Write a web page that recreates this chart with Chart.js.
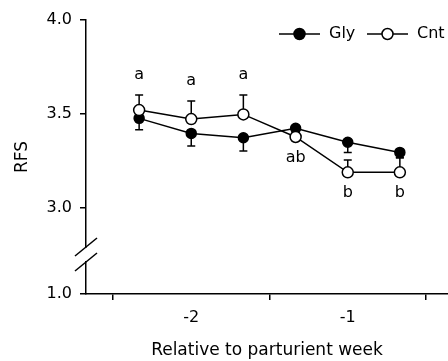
<!DOCTYPE html>
<html>
<head>
<meta charset="utf-8">
<script src="https://cdn.jsdelivr.net/npm/chart.js"></script>
<style>
  body { margin: 0; background: #fff; }
  canvas { display: block; }
</style>
</head>
<body>
<canvas id="rfs" width="448" height="361"></canvas>
<script>
  // sampling points, in weeks relative to parturition
  const weeks = [-2.333, -2, -1.667, -1.333, -1, -0.667];
  const glyMean = [3.477, 3.397, 3.374, 3.424, 3.35, 3.296];
  const glyErr = [0.06, 0.067, 0.07, 0.02, 0.055, 0.03];
  const cntMean = [3.521, 3.473, 3.498, 3.378, 3.19, 3.19];
  const cntErr = [0.08, 0.096, 0.103, 0.02, 0.065, 0.08];
  const letters = ["a", "a", "a", "ab", "b", "b"];
  const xTickLabels = [-2, -1];
  const yTickValues = [3.0, 3.5, 4.0];
  const yBreakLabel = "1.0";

  // axis layout (broken axis: the 1.0 tick sits below the break)
  const Y_BOTTOM = 2.543;
  const X_MIN = -2.6725;
  const X_MAX = -0.3594;
  const letterAbove = [true, true, true, false, false, false];
  const FONT = "'DejaVu Sans', sans-serif";

  const errorBars = {
    id: "errorBars",
    beforeDatasetsDraw(chart) {
      const { ctx, scales } = chart;
      const sets = [
        { mean: glyMean, err: glyErr, dir: -1 },
        { mean: cntMean, err: cntErr, dir: 1 },
      ];
      ctx.save();
      ctx.strokeStyle = "#000";
      ctx.lineWidth = 1.5;
      sets.forEach((s) => {
        weeks.forEach((w, i) => {
          const x = scales.x.getPixelForValue(w);
          const y0 = scales.y.getPixelForValue(s.mean[i]);
          const y1 = scales.y.getPixelForValue(s.mean[i] + s.dir * s.err[i]);
          ctx.beginPath();
          ctx.moveTo(x, y0);
          ctx.lineTo(x, y1);
          ctx.moveTo(x - 4, y1);
          ctx.lineTo(x + 4, y1);
          ctx.stroke();
        });
      });
      ctx.restore();
    },
  };

  const extras = {
    id: "extras",
    afterDraw(chart) {
      const { ctx, scales } = chart;
      ctx.save();
      // letters of significance
      ctx.fillStyle = "#000";
      ctx.font = "16px " + FONT;
      ctx.textAlign = "center";
      ctx.textBaseline = "middle";
      weeks.forEach((w, i) => {
        const x = scales.x.getPixelForValue(w);
        let y;
        if (letterAbove[i]) {
          y = scales.y.getPixelForValue(cntMean[i] + cntErr[i]) - 20;
        } else {
          y = scales.y.getPixelForValue(cntMean[i]) + 21;
        }
        ctx.fillText(letters[i], x, y);
      });

      // axis break
      const ax = scales.y.right;
      ctx.fillStyle = "#fff";
      ctx.fillRect(ax - 3, 248, 6, 13);
      ctx.strokeStyle = "#000";
      ctx.lineWidth = 1.5;
      [247, 262].forEach((cy) => {
        ctx.beginPath();
        ctx.moveTo(ax - 11, cy + 9);
        ctx.lineTo(ax + 11, cy - 9);
        ctx.stroke();
      });

      // legend
      const ly = 34;
      const items = [
        { x: 279, label: "Gly", fill: "#000" },
        { x: 367, label: "Cnt", fill: "#fff" },
      ];
      ctx.textAlign = "left";
      items.forEach((it) => {
        ctx.beginPath();
        ctx.moveTo(it.x, ly);
        ctx.lineTo(it.x + 41, ly);
        ctx.stroke();
        ctx.beginPath();
        ctx.arc(it.x + 20.5, ly, 5.5, 0, Math.PI * 2);
        ctx.fillStyle = it.fill;
        ctx.fill();
        ctx.stroke();
        ctx.fillStyle = "#000";
        ctx.fillText(it.label, it.x + 50, ly);
      });
      ctx.restore();
    },
  };

  const tickFont = { family: FONT, size: 16 };
  const titleFont = { family: FONT, size: 17 };

  new Chart(document.getElementById("rfs"), {
    type: "line",
    data: {
      datasets: [
        {
          label: "Gly",
          data: weeks.map((w, i) => ({ x: w, y: glyMean[i] })),
          borderColor: "#000",
          borderWidth: 1.5,
          pointBackgroundColor: "#000",
          pointBorderColor: "#000",
          pointBorderWidth: 1.5,
          pointRadius: 5,
          order: 2,
        },
        {
          label: "Cnt",
          data: weeks.map((w, i) => ({ x: w, y: cntMean[i] })),
          borderColor: "#000",
          borderWidth: 1.5,
          pointBackgroundColor: "#fff",
          pointBorderColor: "#000",
          pointBorderWidth: 1.5,
          pointRadius: 5.5,
          order: 1,
        },
      ],
    },
    options: {
      responsive: false,
      animation: false,
      devicePixelRatio: 1,
      layout: { autoPadding: false, padding: { top: 20, left: 0, right: 0, bottom: 0 } },
      plugins: { legend: { display: false }, tooltip: { enabled: false } },
      scales: {
        x: {
          type: "linear",
          min: X_MIN,
          max: X_MAX,
          afterBuildTicks: (s) => {
            const t = [];
            xTickLabels.forEach((v) => t.push(v - 0.5, v));
            t.push(xTickLabels[xTickLabels.length - 1] + 0.5);
            s.ticks = t.map((v) => ({ value: v }));
          },
          afterFit: (s) => {
            s.height = 67;
            s.paddingLeft = 0;
            s.paddingRight = 0;
          },
          ticks: {
            autoSkip: false,
            maxRotation: 0,
            padding: 8,
            color: "#000",
            font: tickFont,
            callback: (v) => (xTickLabels.includes(v) ? String(v) : ""),
          },
          grid: {
            drawOnChartArea: false,
            tickLength: 6,
            lineWidth: 1.5,
            color: (c) => (c.tick && Number.isInteger(c.tick.value) ? "rgba(0,0,0,0)" : "#000"),
          },
          border: { color: "#000", width: 1.5 },
          title: {
            display: true,
            text: "Relative to parturient week",
            color: "#000",
            font: titleFont,
            padding: { top: 0, bottom: 0 },
          },
        },
        y: {
          min: Y_BOTTOM,
          max: 4.0,
          afterBuildTicks: (s) => {
            s.ticks = [Y_BOTTOM, ...yTickValues].map((v) => ({ value: v }));
          },
          afterFit: (s) => { s.width = 86; },
          ticks: {
            padding: 8,
            color: "#000",
            font: tickFont,
            callback: (v) => (v === Y_BOTTOM ? yBreakLabel : v.toFixed(1)),
          },
          grid: { drawOnChartArea: false, tickLength: 6, lineWidth: 1.5, color: "#000" },
          border: { color: "#000", width: 1.5 },
          title: {
            display: true,
            text: "RFS",
            color: "#000",
            font: titleFont,
            padding: { top: 12, bottom: 0 },
          },
        },
      },
    },
    plugins: [errorBars, extras],
  });
</script>
</body>
</html>
